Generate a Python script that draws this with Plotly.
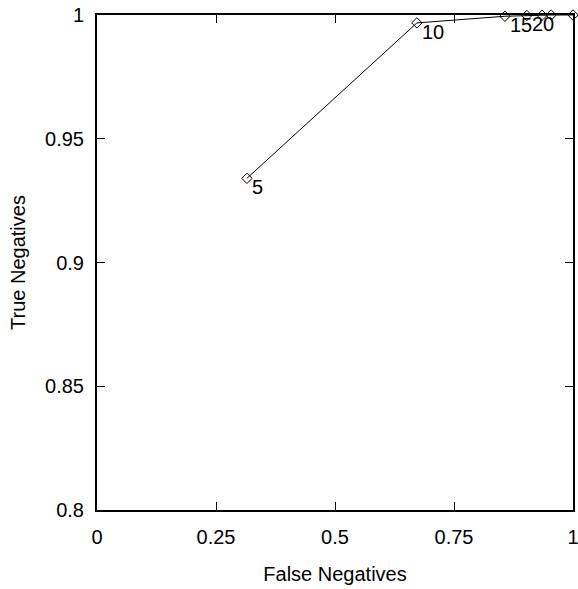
import plotly.graph_objects as go

# ROC-style trade-off at increasing thresholds
false_neg = [0.315, 0.672, 0.857, 0.903, 0.935, 0.954, 1.0]
true_neg = [0.934, 0.9968, 0.9995, 0.9998, 0.9999, 1.0, 1.0]
point_labels = ["5", "10", "15", "20", "", "", ""]

x_ticks = [0, 0.25, 0.5, 0.75, 1]
x_tick_text = ["0", "0.25", "0.5", "0.75", "1"]
y_ticks = [0.8, 0.85, 0.9, 0.95, 1]
y_tick_text = ["0.8", "0.85", "0.9", "0.95", "1"]

FONT = "Liberation Sans, Arial, sans-serif"

fig = go.Figure()
fig.add_trace(go.Scatter(
    x=false_neg, y=true_neg,
    mode="lines+markers",
    line=dict(color="black", width=1),
    marker=dict(symbol="diamond-open", size=8, color="black", line=dict(width=1)),
    cliponaxis=False,
    showlegend=False,
))

# threshold labels just below-right of each point
for xv, yv, lab in zip(false_neg, true_neg, point_labels):
    if lab:
        fig.add_annotation(
            x=xv, y=yv, text=lab, showarrow=False,
            xanchor="left", yanchor="top", xshift=3, yshift=4,
            font=dict(family=FONT, size=20, color="black"),
        )

axis_common = dict(
    showgrid=False, zeroline=False, automargin=False,
    ticklabeloverflow="allow",
    showline=True, linecolor="black", linewidth=2, mirror="ticks",
    ticks="inside", ticklen=8, tickcolor="black", tickwidth=1,
    tickfont=dict(family=FONT, size=20, color="black"),
)

fig.update_xaxes(
    range=[0, 1], tickvals=x_ticks, ticktext=x_tick_text,
    ticklabelstandoff=8,
    title=dict(text="False Negatives", standoff=20,
               font=dict(family=FONT, size=20, color="black")),
    **axis_common,
)
fig.update_yaxes(
    range=[0.8, 1], tickvals=y_ticks, ticktext=y_tick_text,
    ticklabelstandoff=7,
    title=dict(text="True Negatives", standoff=14,
               font=dict(family=FONT, size=20, color="black")),
    **axis_common,
)

fig.update_layout(
    width=578, height=589,
    margin=dict(l=97, r=5, t=15, b=79),
    paper_bgcolor="white", plot_bgcolor="white",
)

fig.write_html("out.html")
